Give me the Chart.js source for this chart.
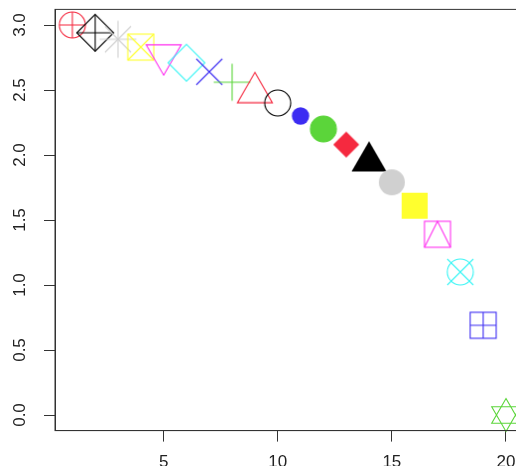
<!DOCTYPE html>
<html>
<head>
<meta charset="utf-8">
<script src="https://cdn.jsdelivr.net/npm/chart.js@4/dist/chart.umd.min.js"></script>
<style>
  html, body { margin: 0; padding: 0; background: #fff; overflow: hidden; }
  #wrap { width: 530px; height: 466px; }
</style>
</head>
<body>
<div id="wrap"><canvas id="plot" width="530" height="466"></canvas></div>
<script>
var xValues = [1, 2, 3, 4, 5, 6, 7, 8, 9, 10, 11, 12, 13, 14, 15, 16, 17, 18, 19, 20];
var yValues = [3.00, 2.94, 2.89, 2.83, 2.77, 2.71, 2.64, 2.56, 2.48, 2.40,
               2.30, 2.20, 2.08, 1.95, 1.79, 1.61, 1.39, 1.10, 0.69, 0.00];
var symbols = [10, 9, 8, 7, 6, 5, 4, 3, 2, 1, 20, 19, 18, 17, 16, 15, 14, 13, 12, 11];
var colours = ['red', 'black', 'gray', 'yellow', 'magenta', 'cyan', 'blue', 'green',
               'red', 'black', 'blue', 'green', 'red', 'black', 'gray', 'yellow',
               'magenta', 'cyan', 'blue', 'green'];
var xTicks = [5, 10, 15, 20];
var yTicks = [0, 0.5, 1, 1.5, 2, 2.5, 3];

var palette = {
  black: '#000000', red: '#F5293F', green: '#5BD53A', blue: '#3C2CF2',
  cyan: '#3DF5F5', magenta: '#FF30F0', yellow: '#FFFF2E', gray: '#D0D0D0'
};

// draw one plotting symbol onto its own little canvas (used as pointStyle)
function makeSymbol(pch, col) {
  var S = 48, c = S / 2, R = 13;
  var cv = document.createElement('canvas');
  cv.width = S; cv.height = S;
  var g = cv.getContext('2d');
  g.strokeStyle = col; g.fillStyle = col; g.lineWidth = 1.1;

  function circle(r, fill) {
    g.beginPath(); g.arc(c, c, r, 0, Math.PI * 2);
    fill ? g.fill() : g.stroke();
  }
  function square(h, fill) {
    fill ? g.fillRect(c - h, c - h, 2 * h, 2 * h) : g.strokeRect(c - h, c - h, 2 * h, 2 * h);
  }
  function diamond(h, fill) {
    g.beginPath();
    g.moveTo(c, c - h); g.lineTo(c + h, c); g.lineTo(c, c + h); g.lineTo(c - h, c);
    g.closePath();
    fill ? g.fill() : g.stroke();
  }
  function tri(up, fill) {
    var r = 1.555 * R, yc = 0.778 * R, xc = 1.347 * R, s = up ? 1 : -1;
    g.beginPath();
    g.moveTo(c, c - s * r); g.lineTo(c + xc, c + s * yc); g.lineTo(c - xc, c + s * yc);
    g.closePath();
    fill ? g.fill() : g.stroke();
  }
  function plus(h) {
    g.beginPath();
    g.moveTo(c - h, c); g.lineTo(c + h, c); g.moveTo(c, c - h); g.lineTo(c, c + h);
    g.stroke();
  }
  function cross(h) {
    g.beginPath();
    g.moveTo(c - h, c - h); g.lineTo(c + h, c + h); g.moveTo(c - h, c + h); g.lineTo(c + h, c - h);
    g.stroke();
  }

  var s2 = Math.SQRT2 * R;
  switch (pch) {
    case 1: circle(R); break;
    case 2: tri(true); break;
    case 3: plus(s2); break;
    case 4: cross(R); break;
    case 5: diamond(s2); break;
    case 6: tri(false); break;
    case 7: square(R); cross(R); break;
    case 8: cross(R); plus(s2); break;
    case 9: diamond(s2); plus(s2); break;
    case 10: circle(R); plus(R); break;
    case 11:
      var r = 16.5, b = r / 2, w = r * 0.866;
      g.beginPath();
      g.moveTo(c, c - r); g.lineTo(c + w, c + b); g.lineTo(c - w, c + b); g.closePath();
      g.moveTo(c, c + r); g.lineTo(c + w, c - b); g.lineTo(c - w, c - b); g.closePath();
      g.stroke();
      break;
    case 12: square(R); plus(R); break;
    case 13: circle(R); cross(R); break;
    case 14:
      square(R);
      g.beginPath();
      g.moveTo(c - R, c + R); g.lineTo(c, c - R); g.lineTo(c + R, c + R);
      g.stroke();
      break;
    case 15: square(R, true); break;
    case 16: circle(R, true); break;
    case 17: tri(true, true); break;
    case 18: diamond(R, true); break;
    case 19: circle(R, true); circle(R); break;
    case 20: circle(R * 2 / 3, true); break;
  }
  return cv;
}

var pointStyles = symbols.map(function (p, i) { return makeSymbol(p, palette[colours[i]]); });
var points = xValues.map(function (x, i) { return { x: x, y: yValues[i] }; });

// plot frame around the data region
var frame = {
  id: 'frame',
  afterDatasetsDraw: function (chart) {
    var a = chart.chartArea, ctx = chart.ctx;
    ctx.save();
    ctx.strokeStyle = '#333';
    ctx.lineWidth = 1;
    ctx.strokeRect(a.left, a.top, a.right - a.left, a.bottom - a.top);
    ctx.restore();
  }
};

var tickFont = { family: 'Liberation Sans, Arial, sans-serif', size: 17 };

var ctx = document.getElementById('plot').getContext('2d');
var chart = new Chart(ctx, {
  type: 'scatter',
  data: {
    datasets: [{
      data: points,
      pointStyle: pointStyles,
      pointRadius: 3,
      pointHoverRadius: 3,
      clip: false
    }]
  },
  options: {
    responsive: false,
    animation: false,
    events: [],
    layout: { padding: { top: 9.4, right: 6.7, left: 0, bottom: 0 } },
    plugins: { legend: { display: false }, tooltip: { enabled: false } },
    scales: {
      x: {
        type: 'linear',
        min: 0.24,
        max: 20.76,
        afterBuildTicks: function (s) { s.ticks = xTicks.map(function (v) { return { value: v }; }); },
        afterFit: function (s) { s.height = 35.4; s.paddingLeft = 0; s.paddingRight = 0; },
        border: { display: true, color: '#333', width: 1 },
        grid: { drawOnChartArea: false, drawTicks: true, tickLength: 11, color: '#333' },
        ticks: { font: tickFont, color: '#222', padding: 11, maxRotation: 0, autoSkip: false }
      },
      y: {
        type: 'linear',
        min: -0.12,
        max: 3.12,
        afterBuildTicks: function (s) { s.ticks = yTicks.map(function (v) { return { value: v }; }); },
        afterFit: function (s) { s.width = 55; s.paddingTop = 0; s.paddingBottom = 0; },
        border: { display: true, color: '#333', width: 1 },
        grid: { drawOnChartArea: false, drawTicks: true, tickLength: 11, color: '#333' },
        ticks: {
          font: tickFont, color: '#222', padding: 12, autoSkip: false,
          minRotation: 90, maxRotation: 90, crossAlign: 'center',
          callback: function (v) { return v.toFixed(1); }
        }
      }
    }
  },
  plugins: [frame]
});
</script>
</body>
</html>
